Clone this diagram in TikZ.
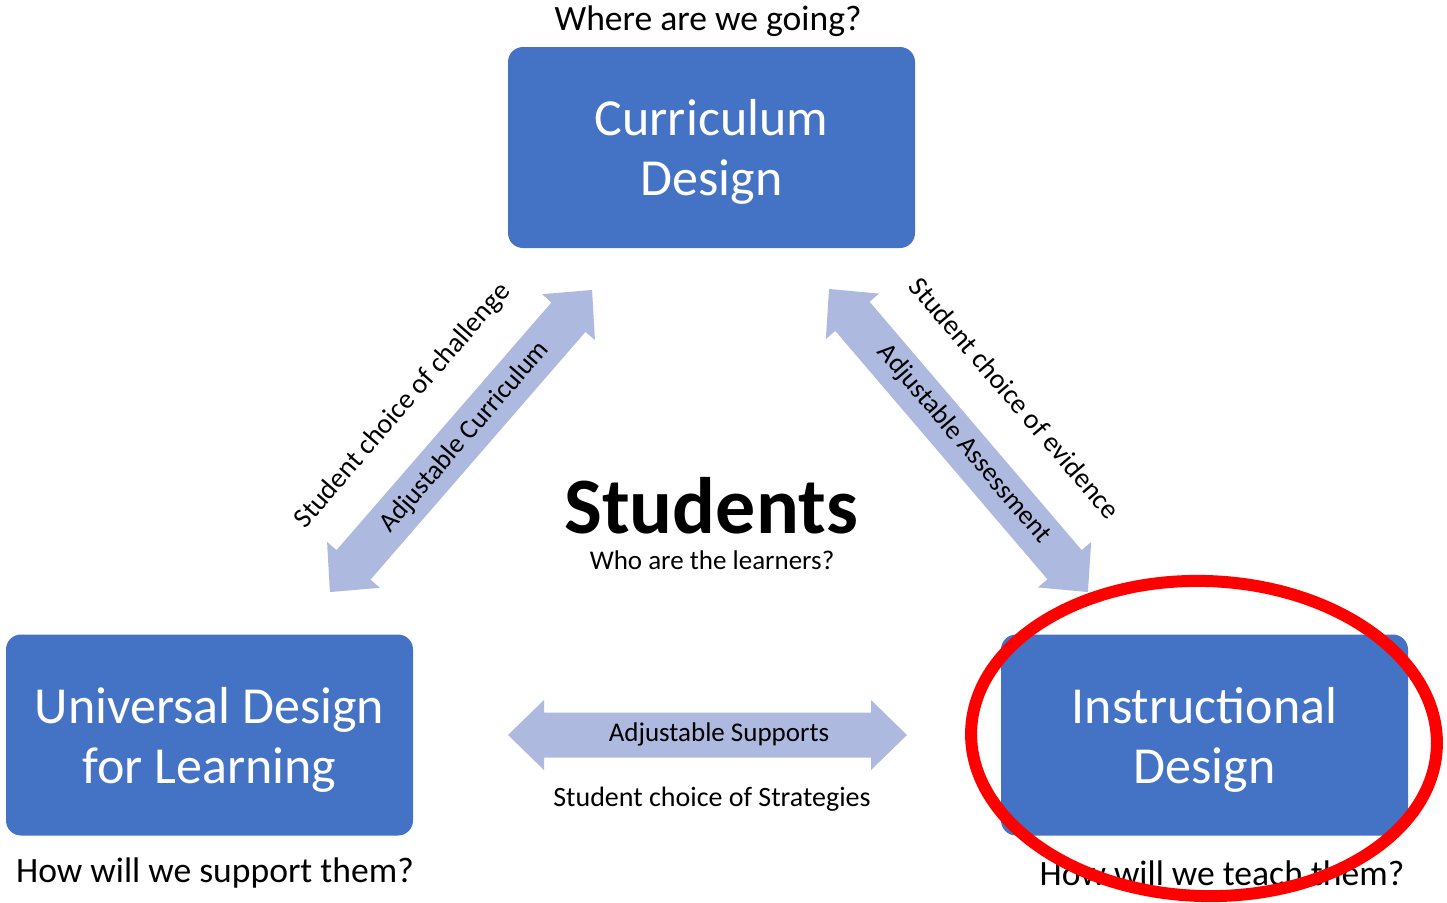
\documentclass[tikz,border=0pt]{standalone}
\usepackage{fontspec}
\setmainfont{Carlito}
\definecolor{boxblue}{RGB}{68,114,196}
\definecolor{arrowblue}{RGB}{173,185,222}
\definecolor{ringred}{RGB}{255,0,0}

% Double-headed block arrow: centre, angle, half length (pixel units)
\newcommand\DblArrow[3]{%
  \fill[arrowfill,shift={#1},rotate=#2]
    (#3,0) -- ({#3-36},35) -- ({#3-36},22.5) -- ({-#3+36},22.5) -- ({-#3+36},35)
    -- ({-#3},0) -- ({-#3+36},-35) -- ({-#3+36},-22.5) -- ({#3-36},-22.5)
    -- ({#3-36},-35) -- cycle;}

\begin{document}
\begin{tikzpicture}[x=0.5pt,y=-0.5pt,
  box/.style={fill=boxblue, rounded corners=7.5pt, minimum width=203.5pt,
    minimum height=100.5pt, inner sep=0pt},
  boxtext/.style={text=white, align=center, inner sep=0pt,
    font=\fontsize{26}{30}\selectfont},
  question/.style={anchor=base, inner sep=0pt, font=\fontsize{17.8}{21}\selectfont},
  small/.style={inner sep=0pt, font=\fontsize{13.5}{16}\selectfont},
  choice/.style={inner sep=0pt, font=\fontsize{14}{17}\selectfont},
  arrowfill/.style={fill=arrowblue}]
\useasboundingbox (0,0) rectangle (1447,902);

% the three design areas
\node[box] (curr) at (711.5,147.5) {};
\node[box] (udl) at (209.5,735) {};
\node[box] (instr) at (1204.5,735) {};
\node[boxtext] (currtxt) at (711.5,152) {Curriculum\\Design};
\node[boxtext] (udltxt) at (209.5,739.5) {Universal Design\\for Learning};
\node[boxtext] (instrtxt) at (1204.5,739.5) {Instructional\\Design};

% guiding questions
\node[question] (qcurr) at (708,30) {Where are we going?};
\node[question] (qudl) at (215,882) {How will we support them?};
\node[question] (qinstr) at (1222,885) {How will we teach them?};

% centre
\node[anchor=base, inner sep=0pt, font=\fontsize{40}{48}\selectfont\bfseries] (students) at (711,533) {Students};
\node[small, anchor=base] (learners) at (712,569) {Who are the learners?};

% block arrows between the areas
\DblArrow{(461,441)}{49.05}{200}
\DblArrow{(958.5,440.5)}{-49.5}{199.3}
\DblArrow{(707.5,735)}{0}{199.5}

% arrow labels
\node[small, rotate=49.05] (lcurr) at (465,437) {Adjustable Curriculum};
\node[choice, rotate=49.05] (lchal) at (403,406) {Student choice of challenge};
\node[small, rotate=-49.5] (lass) at (964,444) {Adjustable Assessment};
\node[choice, rotate=-49.5] (levid) at (1015,398) {Student choice of evidence};
\node[small, anchor=base] (lsup) at (719,741) {Adjustable Supports};
\node[choice, anchor=base] (lstrat) at (712,806) {Student choice of Strategies};

% highlight ring
\draw[ringred, line width=6pt, rotate around={-2:(1204,738.5)}]
  (1204,738.5) ellipse [x radius=116.5pt, y radius=78.75pt];
\end{tikzpicture}
\end{document}
